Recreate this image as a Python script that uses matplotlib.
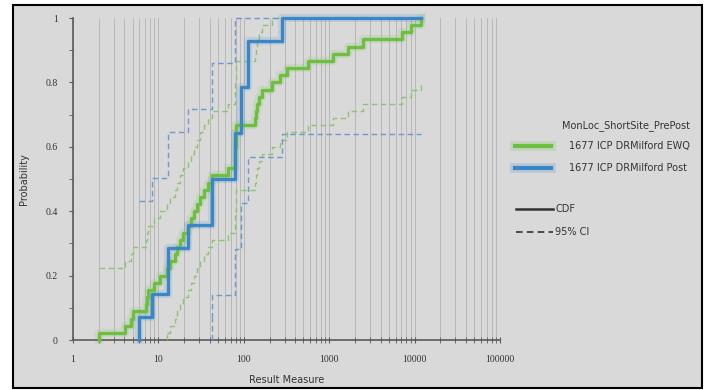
import numpy as np
import matplotlib
matplotlib.use("Agg")
import matplotlib.pyplot as plt
from matplotlib.lines import Line2D
from matplotlib.patches import Rectangle
from matplotlib.ticker import LogLocator, FuncFormatter, MultipleLocator

# sample results per location (sorted)
ewq_vals = [2.0, 4.1, 4.8, 5.0, 7.2, 7.4, 7.5, 9.0, 10.4, 12.5,
            13.5, 15.5, 16.5, 18, 19.5, 22, 24, 26, 28, 31,
            34, 38, 42, 65, 78, 78, 79, 80, 80, 81,
            134, 138, 142, 150, 162, 213, 265, 318, 560, 1100,
            1650, 2470, 7100, 9000, 12000]
post_vals = [6, 8.5, 13, 13, 22, 43, 43, 79, 79, 93, 93, 112, 112, 280]

# half widths of the 95% confidence bands
ewq_ci = 0.20
post_ci = 0.36

series_names = ["1677 ICP DRMilford EWQ", "1677 ICP DRMilford Post"]
series_colors = ["#6cbf3f", "#3a86c6"]
ci_colors = ["#8fc46e", "#6a9bcc"]
legend_title = "MonLoc_ShortSite_PrePost"
style_names = ["CDF", "95% CI"]

x_ticks = [1, 10, 100, 1000, 10000, 100000]
y_ticks = [0, 0.2, 0.4, 0.6, 0.8, 1]

BG = "#d9d9d9"
DASH = (0, (4, 2.5))


def ecdf(vals, x_end):
    v = np.sort(np.asarray(vals, dtype=float))
    n = len(v)
    p = np.arange(1, n + 1) / n
    x = np.concatenate([[v[0]], v, [x_end]])
    y = np.concatenate([[0.0], p, [1.0]])
    return x, y


fig = plt.figure(figsize=(7.04, 3.90), dpi=100)
fig.patch.set_facecolor("white")
fig.patches.append(Rectangle((13 / 704, 2 / 390), 689 / 704, 383 / 390,
                             transform=fig.transFigure, facecolor=BG,
                             edgecolor="black", linewidth=1.5, zorder=-5))

ax = fig.add_axes([73 / 704, 1 - 340 / 390, 427 / 704, 322 / 390])
ax.set_facecolor(BG)
ax.set_xscale("log")
ax.set_xlim(1, 100000)
ax.set_ylim(0, 1)

x_end = max(max(ewq_vals), max(post_vals))
for vals, eps, col, ccol in [(ewq_vals, ewq_ci, series_colors[0], ci_colors[0]),
                             (post_vals, post_ci, series_colors[1], ci_colors[1])]:
    x, y = ecdf(vals, x_end)
    # confidence band
    up = np.clip(y + eps, 0, 1)
    lo = np.clip(y - eps, 0, 1)
    ax.step(x[1:], up[1:], where="post", color=ccol, lw=1.0, ls=DASH,
            zorder=3, clip_on=False)
    k = np.argmax(lo > 0)
    ax.step(x[k:], lo[k:], where="post", color=ccol, lw=1.0, ls=DASH, zorder=3)
    ax.vlines(x[k], 0, lo[k], color=ccol, lw=1.0, ls=DASH, zorder=3)
    # cdf with soft halo
    ax.step(x, y, where="post", color=col, lw=6, alpha=0.15, zorder=4,
            clip_on=False)
    ax.step(x, y, where="post", color=col, lw=2.4, zorder=5, clip_on=False)

ax.set_xticks(x_ticks)
ax.xaxis.set_minor_locator(LogLocator(base=10, subs=np.arange(2, 10), numticks=100))
ax.xaxis.set_major_formatter(FuncFormatter(lambda v, _: "%d" % v))
ax.set_yticks(y_ticks)
ax.yaxis.set_minor_locator(MultipleLocator(0.1))
ax.yaxis.set_major_formatter(FuncFormatter(lambda v, _: "%g" % v))

ax.grid(True, which="both", axis="x", color="#b2b2b2", lw=0.6)
ax.set_axisbelow(True)
for s in ["top", "right"]:
    ax.spines[s].set_visible(False)
for s in ["left", "bottom"]:
    ax.spines[s].set_color("#5a5a5a")
    ax.spines[s].set_linewidth(1.2)
ax.tick_params(axis="both", which="both", color="#5a5a5a", labelcolor="#333333",
               labelsize=7)
ax.tick_params(axis="x", which="both", direction="inout", length=5, pad=8)
ax.tick_params(axis="y", which="both", direction="out", length=3, pad=8)
for lab in ax.get_xticklabels() + ax.get_yticklabels():
    lab.set_family("Liberation Serif")

ax.set_xlabel("Result Measure", fontsize=7, color="#333333", labelpad=8)
ax.set_ylabel("Probability", fontsize=7, color="#333333", labelpad=12)


# legend block at the right, placed in pixel units
def fx(px):
    return px / 704


def fy(py):
    return 1 - py / 390


fig.text(fx(690), fy(126), legend_title, fontsize=7, color="#333333",
         ha="right", va="center")
for i, (name, col) in enumerate(zip(series_names, series_colors)):
    yy = fy(146 + 22 * i)
    fig.lines.append(Line2D([fx(515), fx(551)], [yy, yy], color=col, lw=7,
                            alpha=0.2, transform=fig.transFigure))
    fig.lines.append(Line2D([fx(515), fx(551)], [yy, yy], color=col, lw=3,
                            transform=fig.transFigure))
    fig.text(fx(569), yy, name, fontsize=7, color="#333333", va="center")

for i, (name, ls) in enumerate(zip(style_names, ["-", DASH])):
    yy = fy(209 + 23 * i)
    fig.lines.append(Line2D([fx(516), fx(553)], [yy, yy], color="#333333",
                            lw=1.8 if i == 0 else 1.2, ls=ls,
                            transform=fig.transFigure))
    fig.text(fx(555), yy, name, fontsize=7, color="#333333", va="center")

fig.savefig("out.png", dpi=100)
